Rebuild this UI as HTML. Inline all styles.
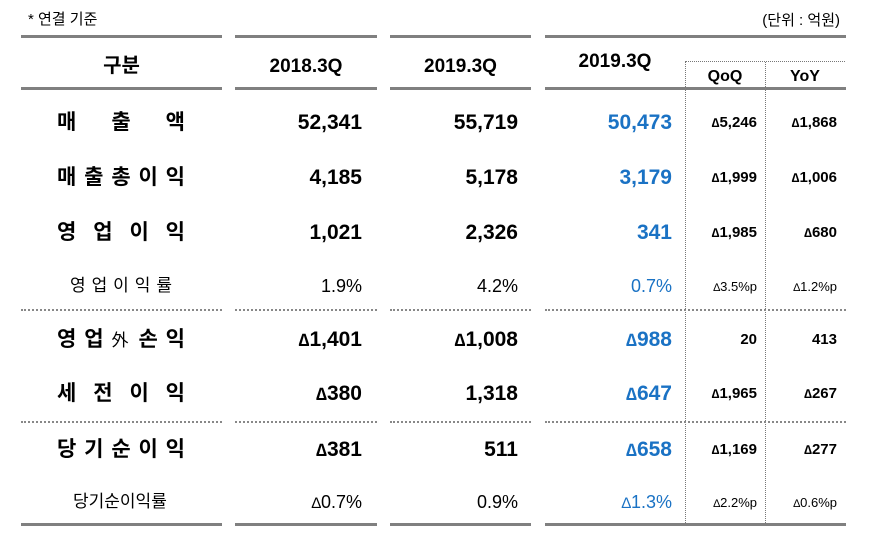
<!DOCTYPE html>
<html><head><meta charset="utf-8"><style>
body{margin:0;width:871px;height:539px;background:#fff;position:relative;overflow:hidden;font-family:"Liberation Sans","Noto Sans CJK KR",sans-serif;color:#000}
div{position:absolute;white-space:nowrap}
.s{height:3px;background:#808080}
.d{height:0;border-top:2px dotted #888}
.v{width:0;border-left:1px dotted #777;top:62px;height:461px}
.lab{left:57px;width:128px;font-weight:bold;font-size:21px;text-align:justify;text-align-last:justify;line-height:24px}
.lab2{font-size:17px;line-height:20px}
.n{font-weight:bold;font-size:21px;text-align:right;line-height:24px}
.p{font-size:18px;text-align:right;line-height:20px}
.q{font-weight:bold;font-size:15px;text-align:right;line-height:18px}
.qp{font-size:13px;text-align:right;line-height:16px}
.b{color:#1a72c4}
.c2{right:509px}.c3{right:353px}.c4{right:199px}.c5{right:114px}.c6{right:34px}
.t{font-size:0.85em}
.h{font-weight:bold;font-size:19px;line-height:22px}
</style></head><body>
<div style="left:28px;top:10px;font-size:15px;line-height:20px">* 연결 기준</div>
<div style="right:31px;top:11px;font-size:15px;line-height:20px">(단위 : 억원)</div>
<div class="s" style="left:21px;top:35px;width:201px"></div>
<div class="s" style="left:235px;top:35px;width:142px"></div>
<div class="s" style="left:390px;top:35px;width:141px"></div>
<div class="s" style="left:545px;top:35px;width:301px"></div>
<div class="h" style="left:21px;width:201px;text-align:center;top:55px;font-size:20px">구분</div>
<div class="h" style="left:235px;width:142px;text-align:center;top:56px">2018.3Q</div>
<div class="h" style="left:390px;width:141px;text-align:center;top:56px">2019.3Q</div>
<div class="h" style="left:545px;width:140px;text-align:center;top:51px">2019.3Q</div>
<div style="left:685px;top:61px;width:160px;border-top:1px dotted #777"></div>
<div class="v" style="left:685px"></div>
<div class="v" style="left:765px"></div>
<div class="h" style="left:685px;width:80px;text-align:center;top:66px;font-size:16px">QoQ</div>
<div class="h" style="left:765px;width:80px;text-align:center;top:66px;font-size:16px">YoY</div>
<div class="s" style="left:21px;top:87px;width:201px"></div>
<div class="s" style="left:235px;top:87px;width:142px"></div>
<div class="s" style="left:390px;top:87px;width:141px"></div>
<div class="s" style="left:545px;top:87px;width:301px"></div>

<div class="lab" style="top:111px">매 출 액</div>
<div class="n c2" style="top:111px">52,341</div><div class="n c3" style="top:111px">55,719</div><div class="n c4 b" style="top:111px">50,473</div>
<div class="q c5" style="top:114px"><span class="t">∆</span>5,246</div><div class="q c6" style="top:114px"><span class="t">∆</span>1,868</div>

<div class="lab" style="top:166px">매 출 총 이 익</div>
<div class="n c2" style="top:166px">4,185</div><div class="n c3" style="top:166px">5,178</div><div class="n c4 b" style="top:166px">3,179</div>
<div class="q c5" style="top:169px"><span class="t">∆</span>1,999</div><div class="q c6" style="top:169px"><span class="t">∆</span>1,006</div>

<div class="lab" style="top:221px">영 업 이 익</div>
<div class="n c2" style="top:221px">1,021</div><div class="n c3" style="top:221px">2,326</div><div class="n c4 b" style="top:221px">341</div>
<div class="q c5" style="top:224px"><span class="t">∆</span>1,985</div><div class="q c6" style="top:224px"><span class="t">∆</span>680</div>

<div class="lab lab2" style="top:276px;left:70px;width:102px;font-weight:normal">영 업 이 익 률</div>
<div class="p c2" style="top:276px">1.9%</div><div class="p c3" style="top:276px">4.2%</div><div class="p c4 b" style="top:276px">0.7%</div>
<div class="qp c5" style="top:279px"><span class="t">∆</span>3.5%p</div><div class="qp c6" style="top:279px"><span class="t">∆</span>1.2%p</div>

<div class="d" style="left:21px;top:309px;width:201px"></div>
<div class="d" style="left:235px;top:309px;width:142px"></div>
<div class="d" style="left:390px;top:309px;width:141px"></div>
<div class="d" style="left:545px;top:309px;width:301px"></div>

<div class="lab" style="top:328px">영 업 <span style="font-weight:normal;font-size:17px">外</span> 손 익</div>
<div class="n c2" style="top:328px"><span class="t">∆</span>1,401</div><div class="n c3" style="top:328px"><span class="t">∆</span>1,008</div><div class="n c4 b" style="top:328px"><span class="t">∆</span>988</div>
<div class="q c5" style="top:331px">20</div><div class="q c6" style="top:331px">413</div>

<div class="lab" style="top:382px">세 전 이 익</div>
<div class="n c2" style="top:382px"><span class="t">∆</span>380</div><div class="n c3" style="top:382px">1,318</div><div class="n c4 b" style="top:382px"><span class="t">∆</span>647</div>
<div class="q c5" style="top:385px"><span class="t">∆</span>1,965</div><div class="q c6" style="top:385px"><span class="t">∆</span>267</div>

<div class="d" style="left:21px;top:421px;width:201px"></div>
<div class="d" style="left:235px;top:421px;width:142px"></div>
<div class="d" style="left:390px;top:421px;width:141px"></div>
<div class="d" style="left:545px;top:421px;width:301px"></div>

<div class="lab" style="top:438px">당 기 순 이 익</div>
<div class="n c2" style="top:438px"><span class="t">∆</span>381</div><div class="n c3" style="top:438px">511</div><div class="n c4 b" style="top:438px"><span class="t">∆</span>658</div>
<div class="q c5" style="top:441px"><span class="t">∆</span>1,169</div><div class="q c6" style="top:441px"><span class="t">∆</span>277</div>

<div class="lab lab2" style="top:492px;left:73px;width:99px;font-weight:normal;text-align:left;text-align-last:auto">당기순이익률</div>
<div class="p c2" style="top:492px"><span class="t">∆</span>0.7%</div><div class="p c3" style="top:492px">0.9%</div><div class="p c4 b" style="top:492px"><span class="t">∆</span>1.3%</div>
<div class="qp c5" style="top:495px"><span class="t">∆</span>2.2%p</div><div class="qp c6" style="top:495px"><span class="t">∆</span>0.6%p</div>

<div class="s" style="left:21px;top:523px;width:201px;height:3px"></div>
<div class="s" style="left:235px;top:523px;width:142px;height:3px"></div>
<div class="s" style="left:390px;top:523px;width:141px;height:3px"></div>
<div class="s" style="left:545px;top:523px;width:301px;height:3px"></div>
</body></html>
